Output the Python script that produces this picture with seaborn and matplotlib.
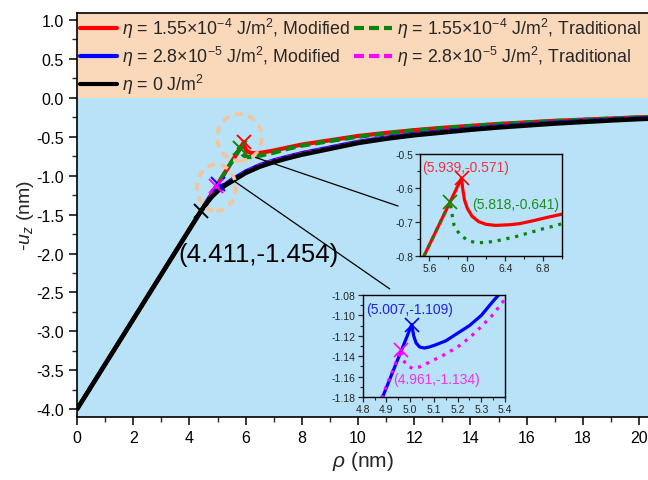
import matplotlib
matplotlib.use("Agg")
import matplotlib.pyplot as plt
import seaborn as sns
from matplotlib.ticker import MultipleLocator, FormatStrFormatter
from matplotlib.patches import Ellipse, ConnectionPatch
from matplotlib.lines import Line2D

# ---------------- data ----------------
rho_black = [0, 4.411, 4.6, 4.8, 5.0, 5.25, 5.5, 6.0, 6.5, 7.0, 7.5, 8.0, 9.0, 10.0,
             11.0, 12.0, 13.0, 14.0, 15.0, 16.0, 17.0, 18.0, 19.0, 20.0, 20.35]
uz_black = [-4.0, -1.454, -1.36, -1.27, -1.2, -1.13, -1.075, -0.965, -0.885, -0.825,
            -0.775, -0.73, -0.655, -0.58, -0.525, -0.48, -0.445, -0.41, -0.38, -0.355,
            -0.33, -0.31, -0.29, -0.273, -0.268]

rho_red = [0, 5.939, 5.95, 5.97, 6.0, 6.05, 6.12, 6.2, 6.3, 6.45, 6.55, 6.7, 6.85, 7.0,
           7.5, 8.0, 9.0, 10.0, 11.0, 12.0, 13.0, 14.0, 15.0, 16.0, 17.0, 18.0, 19.0,
           20.0, 20.35]
uz_red = [-4.0, -0.571, -0.60, -0.635, -0.66, -0.683, -0.699, -0.707, -0.71, -0.708,
          -0.705, -0.696, -0.686, -0.677, -0.638, -0.60, -0.545, -0.49, -0.45, -0.415,
          -0.385, -0.36, -0.335, -0.315, -0.295, -0.28, -0.265, -0.25, -0.246]

rho_green = [0, 5.818, 5.84, 5.86, 5.89, 5.94, 6.02, 6.1, 6.2, 6.3, 6.4, 6.5, 6.6, 6.7,
             6.8, 6.9, 7.0, 7.5, 8.0, 9.0, 10.0, 11.0, 12.0, 13.0, 14.0, 15.0, 16.0,
             17.0, 18.0, 19.0, 20.0, 20.35]
uz_green = [-4.0, -0.641, -0.68, -0.71, -0.725, -0.742, -0.756, -0.761, -0.76, -0.756,
            -0.75, -0.744, -0.736, -0.728, -0.72, -0.713, -0.705, -0.655, -0.615, -0.555,
            -0.50, -0.458, -0.42, -0.39, -0.363, -0.338, -0.318, -0.298, -0.282, -0.267,
            -0.252, -0.248]

rho_blue = [0, 5.007, 5.015, 5.025, 5.04, 5.06, 5.08, 5.1, 5.15, 5.2, 5.25, 5.3, 5.35,
            5.4, 5.5, 6.0, 6.5, 7.0, 7.5, 8.0, 9.0, 10.0, 11.0, 12.0, 13.0, 14.0, 15.0,
            16.0, 17.0, 18.0, 19.0, 20.0, 20.35]
uz_blue = [-4.0, -1.109, -1.12, -1.127, -1.131, -1.132, -1.131, -1.1295, -1.125,
           -1.1175, -1.11, -1.10, -1.086, -1.073, -1.048, -0.94, -0.858, -0.798, -0.75,
           -0.705, -0.632, -0.559, -0.505, -0.461, -0.427, -0.393, -0.363, -0.338, -0.314,
           -0.294, -0.276, -0.26, -0.256]

rho_mag = [0, 4.961, 4.97, 4.985, 5.01, 5.04, 5.08, 5.14, 5.2, 5.25, 5.3, 5.35, 5.4,
           5.5, 6.0, 6.5, 7.0, 7.5, 8.0, 9.0, 10.0, 11.0, 12.0, 13.0, 14.0, 15.0, 16.0,
           17.0, 18.0, 19.0, 20.0, 20.35]
uz_mag = [-4.0, -1.134, -1.143, -1.149, -1.152, -1.1505, -1.146, -1.139, -1.131, -1.122,
          -1.111, -1.099, -1.084, -1.058, -0.945, -0.862, -0.802, -0.754, -0.709, -0.636,
          -0.563, -0.509, -0.465, -0.43, -0.396, -0.366, -0.341, -0.317, -0.297, -0.279,
          -0.263, -0.259]

peak_black = (4.411, -1.454)
peak_red = (5.939, -0.571)
peak_green = (5.818, -0.641)
peak_blue = (5.007, -1.109)
peak_mag = (4.961, -1.134)

labels = [r"$\eta$ = 1.55×10$^{-4}$ J/m$^2$, Modified",
          r"$\eta$ = 1.55×10$^{-4}$ J/m$^2$, Traditional",
          r"$\eta$ = 2.8×10$^{-5}$ J/m$^2$, Modified",
          r"$\eta$ = 2.8×10$^{-5}$ J/m$^2$, Traditional",
          r"$\eta$ = 0 J/m$^2$"]

# ---------------- style ----------------
sns.set_theme(style="ticks")
plt.rcParams["font.family"] = ["Liberation Sans", "DejaVu Sans"]
plt.rcParams["mathtext.fontset"] = "custom"
plt.rcParams["mathtext.rm"] = "Liberation Sans"
plt.rcParams["mathtext.it"] = "Liberation Sans:italic"
plt.rcParams["axes.unicode_minus"] = False

C_RED, C_GREEN, C_BLUE, C_MAG, C_BLACK = "#FF0000", "#0A850A", "#0000FF", "#FF00FF", "#000000"
PEACH = "#FAD8BA"
SKY = "#B8E2F8"

fig = plt.figure(figsize=(6.48, 4.81), dpi=100)
ax = fig.add_axes([77/648, 1-418/481, 571/648, 404/481])

YMIN, YMAX = -4.1, 1.09
ax.axhspan(0, YMAX, color=PEACH, zorder=0, lw=0)
ax.axhspan(YMIN, 0, color=SKY, zorder=0, lw=0)

dash = (0, (2.4, 1.2))
sns.lineplot(x=rho_red, y=uz_red, ax=ax, color=C_RED, lw=3.0, sort=False, estimator=None, zorder=3)
sns.lineplot(x=rho_green, y=uz_green, ax=ax, color=C_GREEN, lw=3.0, sort=False, estimator=None,
             linestyle=dash, zorder=4)
sns.lineplot(x=rho_blue, y=uz_blue, ax=ax, color=C_BLUE, lw=2.4, sort=False, estimator=None, zorder=5)
sns.lineplot(x=rho_mag, y=uz_mag, ax=ax, color=C_MAG, lw=2.0, sort=False, estimator=None,
             linestyle=dash, zorder=6)
sns.lineplot(x=rho_black, y=uz_black, ax=ax, color=C_BLACK, lw=3.3, sort=False, estimator=None, zorder=6.5)

for (px, py), c in [(peak_red, C_RED), (peak_green, C_GREEN), (peak_blue, C_BLUE),
                    (peak_mag, C_MAG), (peak_black, C_BLACK)]:
    ax.plot([px], [py], marker="x", color=c, ms=10, mew=1.4, zorder=8, ls="none")

ax.set_xlim(0, 20.32)
ax.set_ylim(YMIN, YMAX)
ax.xaxis.set_major_locator(MultipleLocator(2))
ax.xaxis.set_minor_locator(MultipleLocator(1))
ax.yaxis.set_major_locator(MultipleLocator(0.5))
ax.yaxis.set_minor_locator(MultipleLocator(0.25))
ax.yaxis.set_major_formatter(FormatStrFormatter("%.1f"))
ax.tick_params(which="major", direction="out", length=6, width=1.1, labelsize=11.5, colors="black")
ax.tick_params(which="minor", direction="out", length=3.5, width=1.0)
for s in ax.spines.values():
    s.set_linewidth(1.2)
    s.set_color("black")
ax.spines["right"].set_visible(False)
ax.set_xlabel(r"$\rho$ (nm)", fontsize=15, labelpad=3)
ax.set_ylabel(r"-$u_z$ (nm)", fontsize=14, labelpad=0)

ax.text(0.178, 0.403, "(4.411,-1.454)", transform=ax.transAxes, fontsize=18.5,
        ha="left", va="center", color="black", zorder=9)

# dashed ellipses
ax.add_patch(Ellipse((5.78, -0.51), 1.59, 0.60, fill=False, ec="#F7C39A", lw=2.6,
                     ls=(0, (2.2, 1.6)), zorder=7))
ax.add_patch(Ellipse((4.96, -1.153), 1.38, 0.60, fill=False, ec="#F7C39A", lw=2.6,
                     ls=(0, (2.2, 1.6)), zorder=7))

# legend
h = [Line2D([], [], color=C_RED, lw=3),
     Line2D([], [], color=C_BLUE, lw=3),
     Line2D([], [], color=C_BLACK, lw=3),
     Line2D([], [], color=C_GREEN, lw=3, ls=dash),
     Line2D([], [], color=C_MAG, lw=3, ls=dash)]
lab = [labels[0], labels[2], labels[4], labels[1], labels[3]]
ax.legend(h, lab, ncol=2, loc="upper left", bbox_to_anchor=(0.0, 1.0), frameon=False,
          fontsize=12.8, handlelength=2.1, handletextpad=0.3, columnspacing=0.2,
          labelspacing=0.22, borderaxespad=0.05, borderpad=0.1)

# ---------------- inset 1 ----------------
ax1 = fig.add_axes([420/648, 1-257/481, 142/648, 102/481])
ax1.set_facecolor(SKY)
dots = (0, (1, 1.8))
sns.lineplot(x=rho_red, y=uz_red, ax=ax1, color=C_RED, lw=2.3, sort=False, estimator=None)
sns.lineplot(x=rho_green, y=uz_green, ax=ax1, color=C_GREEN, lw=2.3, sort=False,
             estimator=None, linestyle=dots)
ax1.plot([peak_red[0]], [peak_red[1]], marker="x", color=C_RED, ms=10, mew=1.2, ls="none")
ax1.plot([peak_green[0]], [peak_green[1]], marker="x", color=C_GREEN, ms=10, mew=1.2, ls="none")
ax1.set_xlim(5.5, 7.0)
ax1.set_ylim(-0.8, -0.5)
ax1.xaxis.set_major_locator(MultipleLocator(0.4))
ax1.xaxis.set_minor_locator(MultipleLocator(0.2))
ax1.yaxis.set_major_locator(MultipleLocator(0.1))
ax1.yaxis.set_minor_locator(MultipleLocator(0.05))
ax1.xaxis.set_major_formatter(FormatStrFormatter("%.1f"))
ax1.yaxis.set_major_formatter(FormatStrFormatter("%.1f"))
ax1.text(0.32, 0.87, "(5.939,-0.571)", transform=ax1.transAxes, color="#EE3344",
         fontsize=10, ha="center", va="center")
ax1.text(0.67, 0.51, "(5.818,-0.641)", transform=ax1.transAxes, color="#1E8C1E",
         fontsize=10, ha="center", va="center")

# ---------------- inset 2 ----------------
ax2 = fig.add_axes([362.7/648, 1-398/481, 142.3/648, 102/481])
ax2.set_facecolor(SKY)
sns.lineplot(x=rho_blue, y=uz_blue, ax=ax2, color=C_BLUE, lw=2.3, sort=False, estimator=None)
sns.lineplot(x=rho_mag, y=uz_mag, ax=ax2, color=C_MAG, lw=2.3, sort=False,
             estimator=None, linestyle=dots)
ax2.plot([peak_blue[0]], [peak_blue[1]], marker="x", color=C_BLUE, ms=10, mew=1.2, ls="none")
ax2.plot([peak_mag[0]], [peak_mag[1]], marker="x", color=C_MAG, ms=10, mew=1.2, ls="none")
ax2.set_xlim(4.8, 5.4)
ax2.set_ylim(-1.18, -1.08)
ax2.xaxis.set_major_locator(MultipleLocator(0.1))
ax2.xaxis.set_minor_locator(MultipleLocator(0.05))
ax2.yaxis.set_major_locator(MultipleLocator(0.02))
ax2.yaxis.set_minor_locator(MultipleLocator(0.01))
ax2.xaxis.set_major_formatter(FormatStrFormatter("%.1f"))
ax2.yaxis.set_major_formatter(FormatStrFormatter("%.2f"))
ax2.text(0.33, 0.86, "(5.007,-1.109)", transform=ax2.transAxes, color="#2222DD",
         fontsize=10, ha="center", va="center")
ax2.text(0.52, 0.18, "(4.961,-1.134)", transform=ax2.transAxes, color="#EE33EE",
         fontsize=10, ha="center", va="center")

for a in (ax1, ax2):
    a.tick_params(which="major", direction="out", length=3.5, width=0.9, labelsize=7.5, pad=1.5)
    a.tick_params(which="minor", direction="out", length=2, width=0.8)
    for s in a.spines.values():
        s.set_linewidth(1.0)
        s.set_color("black")
    a.set_xlabel("")
    a.set_ylabel("")

# leader lines from the circled regions to the insets
for xy_main, xy_inset, inset in [((6.35, -0.765), (-0.155, 0.49), ax1),
                                 ((5.58, -1.066), (0.19, 1.06), ax2)]:
    cp = ConnectionPatch(xyA=xy_main, coordsA=ax.transData, xyB=xy_inset,
                         coordsB=inset.transAxes, color="black", lw=0.9, zorder=7)
    fig.add_artist(cp)

fig.savefig("out.png", dpi=100)
